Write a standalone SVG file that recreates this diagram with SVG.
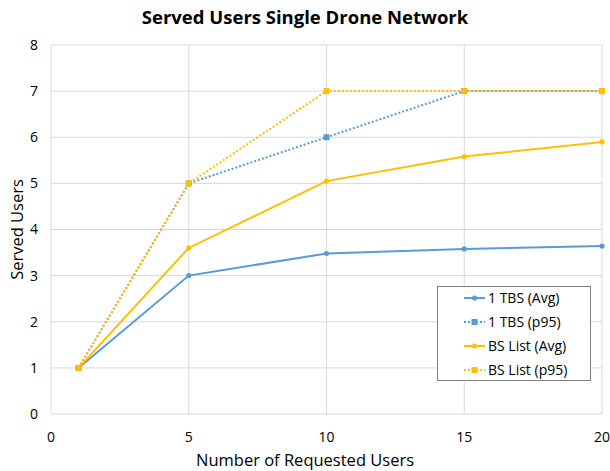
<svg xmlns="http://www.w3.org/2000/svg" width="610" height="471" viewBox="0 0 610 471">
<style>
.grid{stroke:#D9D9D9;stroke-width:1;fill:none}
.tick{font-family:"Open Sans","Liberation Sans",sans-serif;font-size:14px;fill:#000}
.axt{font-family:"Open Sans","Liberation Sans",sans-serif;font-size:16.5px;fill:#000}
.blue{stroke:#5B9BD5;fill:none;stroke-width:2}
.gold{stroke:#FFC000;fill:none;stroke-width:2}
.dot{stroke-dasharray:2 2}
.mb{fill:#5B9BD5}
.mg{fill:#FFC000}
.leg{font-family:"Open Sans","Liberation Sans",sans-serif;font-size:14px;fill:#000}
</style>
<defs>
<circle id="c" r="2.6"/>
<rect id="s" x="-3" y="-3" width="6" height="6"/>
</defs>
<rect width="610" height="471" fill="#fff"/>
<text x="305" y="24" text-anchor="middle" font-family="'Open Sans','Liberation Sans',sans-serif" font-size="18.5" font-weight="bold">Served Users Single Drone Network</text>
<g id="grid">
<path class="grid" d="M51 45H602M51 91.1H602M51 137.25H602M51 183.4H602M51 229.5H602M51 275.6H602M51 321.75H602M51 367.9H602M51 414H602M51 45V414M188.75 45V414M326.5 45V414M464.25 45V414M602 45V414"/>
</g>
<g id="yticks" class="tick" text-anchor="end">
<text x="38" y="50">8</text>
<text x="38" y="96">7</text>
<text x="38" y="142">6</text>
<text x="38" y="188">5</text>
<text x="38" y="234">4</text>
<text x="38" y="281">3</text>
<text x="38" y="327">2</text>
<text x="38" y="373">1</text>
<text x="38" y="419">0</text>
</g>
<g id="xticks" class="tick" text-anchor="middle">
<text x="51" y="442">0</text>
<text x="188.75" y="442">5</text>
<text x="326.5" y="442">10</text>
<text x="464.25" y="442">15</text>
<text x="602" y="442">20</text>
</g>
<text class="axt" x="305" y="466" text-anchor="middle">Number of Requested Users</text>
<text class="axt" transform="translate(23,229.5) rotate(-90)" text-anchor="middle">Served Users</text>
<g id="connectors">
<polyline class="blue" points="78.55,367.9 188.75,275.6 326.5,253.5 464.25,248.9 602,246.1"/>
<polyline class="blue dot" points="78.55,367.9 188.75,183.4 326.5,137.25 464.25,91.1 602,91.1"/>
<polyline class="gold" points="78.55,367.9 188.75,247.95 326.5,181.1 464.25,156.6 602,141.9"/>
<polyline class="gold dot" points="78.55,367.9 188.75,183.4 326.5,91.1 464.25,91.1 602,91.1"/>
</g>
<g id="markers">
<g class="mb">
<use href="#c" x="78.55" y="367.9"/><use href="#c" x="188.75" y="275.6"/><use href="#c" x="326.5" y="253.5"/><use href="#c" x="464.25" y="248.9"/><use href="#c" x="602" y="246.1"/>
<use href="#s" x="78.55" y="367.9"/><use href="#s" x="188.75" y="183.4"/><use href="#s" x="326.5" y="137.25"/><use href="#s" x="464.25" y="91.1"/><use href="#s" x="602" y="91.1"/>
</g>
<g class="mg">
<use href="#c" x="78.55" y="367.9"/><use href="#c" x="188.75" y="247.95"/><use href="#c" x="326.5" y="181.1"/><use href="#c" x="464.25" y="156.6"/><use href="#c" x="602" y="141.9"/>
<use href="#s" x="78.55" y="367.9"/><use href="#s" x="188.75" y="183.4"/><use href="#s" x="326.5" y="91.1"/><use href="#s" x="464.25" y="91.1"/><use href="#s" x="602" y="91.1"/>
</g>
</g>
<g id="legend">
<rect x="437.5" y="286.5" width="153" height="94" fill="#fff" stroke="#7F7F7F" stroke-width="1"/>
<path class="blue" d="M464 298H485"/><use href="#c" x="474.5" y="298" class="mb"/>
<text class="leg" x="488" y="303">1 TBS (Avg)</text>
<path class="blue dot" d="M464 322H485"/><use href="#s" x="474.5" y="322" class="mb"/>
<text class="leg" x="488" y="327">1 TBS (p95)</text>
<path class="gold" d="M464 346H485"/><use href="#c" x="474.5" y="346" class="mg"/>
<text class="leg" x="488" y="351">BS List (Avg)</text>
<path class="gold dot" d="M464 370H485"/><use href="#s" x="474.5" y="370" class="mg"/>
<text class="leg" x="488" y="375">BS List (p95)</text>
</g>
</svg>
